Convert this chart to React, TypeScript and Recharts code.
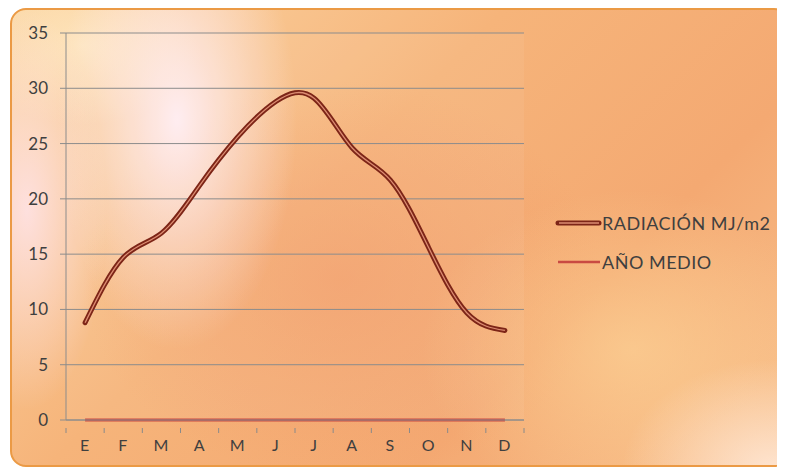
import { LineChart, Line, XAxis, YAxis, CartesianGrid } from "recharts"

const months = ["E", "F", "M", "A", "M", "J", "J", "A", "S", "O", "N", "D"]
const radiacion = [8.8, 14.7, 16.9, 21.2, 25.6, 28.8, 29.1, 24.6, 21.7, 15.6, 9.7, 8.1]
const anoMedio = [0, 0, 0, 0, 0, 0, 0, 0, 0, 0, 0, 0]
const yTicks = [0, 5, 10, 15, 20, 25, 30, 35]

const data = months.map((mes, i) => ({ mes, radiacion: radiacion[i], anoMedio: anoMedio[i] }))

const FONT = "Lato, 'Open Sans', sans-serif"
const TEXT = "#3f3f3f"
const DARK = "#7d2517"
const LIGHT = "#dc8c72"
const RED = "#c94a42"
const BW = 458 / 12

const bg = [
  "radial-gradient(ellipse 120px 230px at 165px 110px, rgba(255,238,245,0.95), rgba(255,238,245,0))",
  "radial-gradient(ellipse 80px 200px at 15px 200px, rgba(255,228,235,0.85), rgba(255,228,235,0))",
  "radial-gradient(ellipse 120px 80px at 70px 35px, rgba(254,230,190,0.9), rgba(254,230,190,0))",
  "radial-gradient(ellipse 150px 110px at 760px 460px, rgba(255,232,215,0.9), rgba(255,232,215,0))",
  "radial-gradient(ellipse 210px 160px at 620px 340px, rgba(252,210,150,0.7), rgba(252,210,150,0))",
  "radial-gradient(ellipse 260px 200px at 330px 270px, rgba(241,148,100,0.5), rgba(241,148,100,0))",
  "linear-gradient(135deg, #fbd7a6 0%, #f6b47a 40%, #f4a972 70%, #f8c08c 100%)",
].join(", ")

function MonthTick(props: any) {
  const { x, y, payload, index } = props
  return (
    <g>
      <line x1={x - BW / 2} y1={y} x2={x - BW / 2} y2={y + 5} stroke="#8a8a8a" />
      {index === 11 && <line x1={x + BW / 2} y1={y} x2={x + BW / 2} y2={y + 5} stroke="#8a8a8a" />}
      <text x={x} y={y + 23} textAnchor="middle" fill={TEXT} fontSize={16} fontFamily={FONT} letterSpacing={1}>
        {payload.value}
      </text>
    </g>
  )
}

function LegendBox() {
  return (
    <div
      style={{
        position: "absolute",
        left: 543,
        top: 202,
        fontFamily: FONT,
        fontSize: 18,
        letterSpacing: 0.5,
        color: TEXT,
      }}
    >
      <div style={{ display: "flex", alignItems: "center", height: 22 }}>
        <svg width={47} height={10}>
          <line x1={3} y1={5} x2={44} y2={5} stroke={DARK} strokeWidth={5} strokeLinecap="round" />
          <line x1={4} y1={5} x2={44} y2={5} stroke={LIGHT} strokeWidth={1.3} />
        </svg>
        <span>RADIACIÓN MJ/m2</span>
      </div>
      <div style={{ display: "flex", alignItems: "center", height: 22, marginTop: 17 }}>
        <svg width={47} height={10}>
          <line x1={3} y1={5} x2={45} y2={5} stroke={RED} strokeWidth={2.5} />
        </svg>
        <span>AÑO MEDIO</span>
      </div>
    </div>
  )
}

export default function App() {
  return (
    <div
      style={{
        marginLeft: 2,
        width: 780,
        height: 459,
        borderRadius: 16,
        border: "2px solid #eb9a45",
        boxSizing: "border-box",
        background: bg,
        position: "relative",
        overflow: "hidden",
      }}
    >
      <div style={{ position: "absolute", left: -2, top: -2 }}>
        <LineChart width={780} height={459} data={data} margin={{ top: 25, right: 266, bottom: 7, left: 16 }}>
          <CartesianGrid vertical={false} stroke="#8c8c8c" fill="rgba(255,255,255,0.06)" />
          <XAxis
            dataKey="mes"
            height={40}
            tickLine={false}
            stroke="#8c8c8c"
            tick={<MonthTick />}
            interval={0}
            padding={{ left: BW / 2, right: BW / 2 }}
          />
          <YAxis
            domain={[0, 35]}
            ticks={yTicks}
            width={40}
            stroke="#8c8c8c"
            tickSize={6}
            tickMargin={12}
            tick={{ fill: TEXT, fontSize: 17, fontFamily: FONT }}
          />
          <Line
            dataKey="anoMedio"
            type="monotone"
            stroke={RED}
            strokeWidth={3}
            dot={false}
            activeDot={false}
            isAnimationActive={false}
          />
          <Line
            dataKey="radiacion"
            type="natural"
            stroke={DARK}
            strokeWidth={5}
            strokeLinecap="round"
            dot={false}
            activeDot={false}
            isAnimationActive={false}
          />
          <Line
            dataKey="radiacion"
            type="natural"
            stroke={LIGHT}
            strokeWidth={1.3}
            dot={false}
            activeDot={false}
            isAnimationActive={false}
          />
        </LineChart>
      </div>
      <LegendBox />
    </div>
  )
}
